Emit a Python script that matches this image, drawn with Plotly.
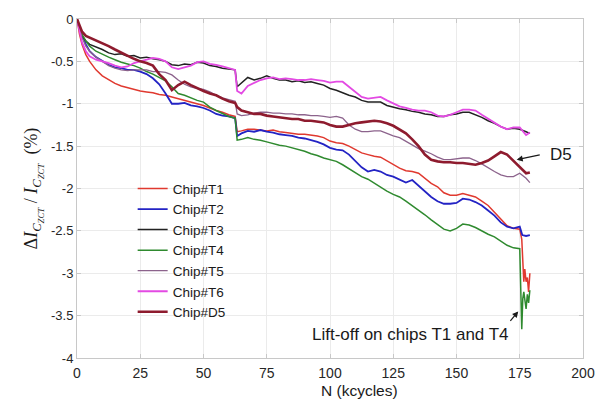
import plotly.graph_objects as go

# ---------------- data ----------------
X = [0, 1, 2, 3.5, 5, 7.5, 10, 12.5, 15, 17.5, 20, 22.5, 25, 27.5, 30, 32.5, 35, 37.5,
     40, 42.5, 45, 47.5, 50, 52.5, 55, 57.5, 60, 62.5, 63.3, 65, 67.5, 70, 72.5, 75,
     77.5, 80, 82.5, 85, 87.5, 90, 92.5, 95, 97.5, 100, 102.5, 105, 107.5, 110, 112.5,
     115, 117.5, 120, 122.5, 125, 127.5, 130, 132.5, 135, 137.5, 140, 142.5, 145, 147.5,
     150, 152.5, 155, 157.5, 160, 162.5, 165, 167.5, 170, 172.5, 175]

T1 = [0, -0.18, -0.3, -0.42, -0.5, -0.6, -0.67, -0.72, -0.76, -0.79, -0.81, -0.83, -0.85, -0.86,
      -0.87, -0.89, -0.9, -0.92, -0.94, -0.96, -0.98, -1.0, -1.02, -1.05, -1.08, -1.1, -1.13, -1.15,
      -1.33, -1.32, -1.3, -1.3, -1.31, -1.32, -1.31, -1.33, -1.34, -1.35, -1.36, -1.36, -1.37, -1.38,
      -1.4, -1.44, -1.46, -1.47, -1.5, -1.54, -1.58, -1.6, -1.62, -1.63, -1.67, -1.72, -1.76, -1.79,
      -1.8, -1.82, -1.88, -1.94, -1.98, -2.05, -2.08, -2.08, -2.06, -2.08, -2.1, -2.15, -2.2, -2.28,
      -2.36, -2.44, -2.47, -2.48]
T1_TAIL_X = [175.8, 176.2, 176.6, 177, 177.5, 178, 178.5, 179]
T1_TAIL_Y = [-2.6, -2.9, -3.1, -2.95, -3.1, -3.05, -3.22, -3.0]

T2 = [0, -0.1, -0.2, -0.3, -0.38, -0.45, -0.5, -0.54, -0.57, -0.58, -0.6, -0.6, -0.62, -0.65,
      -0.7, -0.77, -0.88, -1.0, -1.0, -0.99, -1.02, -1.03, -1.05, -1.08, -1.12, -1.14, -1.15, -1.17,
      -1.38, -1.35, -1.32, -1.33, -1.31, -1.33, -1.34, -1.36, -1.37, -1.38, -1.4, -1.41, -1.43, -1.45,
      -1.48, -1.52, -1.54, -1.55, -1.6, -1.68, -1.75, -1.8, -1.78, -1.8, -1.84, -1.86, -1.9, -1.93,
      -1.9, -1.97, -2.04, -2.1, -2.15, -2.18, -2.18, -2.17, -2.12, -2.13, -2.16, -2.2, -2.26, -2.32,
      -2.4, -2.45, -2.47, -2.45]
T2_TAIL_X = [176, 177.5, 179]
T2_TAIL_Y = [-2.55, -2.56, -2.55]

T3 = [0, -0.12, -0.2, -0.26, -0.3, -0.33, -0.36, -0.4, -0.42, -0.41, -0.44, -0.43, -0.46, -0.45,
      -0.47, -0.48, -0.5, -0.54, -0.55, -0.53, -0.54, -0.51, -0.52, -0.55, -0.56, -0.58, -0.59, -0.6,
      -0.8, -0.76, -0.69, -0.72, -0.7, -0.67, -0.7, -0.72, -0.72, -0.74, -0.73, -0.75, -0.74, -0.76,
      -0.78, -0.82, -0.84, -0.87, -0.9, -0.92, -0.96, -0.98, -0.98, -0.98, -1.02, -1.04, -1.06, -1.07,
      -1.09, -1.1, -1.12, -1.13, -1.15, -1.15, -1.13, -1.12, -1.1, -1.1, -1.13, -1.16, -1.2, -1.23,
      -1.27, -1.3, -1.29, -1.3]
T3_TAIL_X = [177.5, 179]
T3_TAIL_Y = [-1.33, -1.35]

T4 = [0, -0.1, -0.18, -0.26, -0.32, -0.38, -0.42, -0.45, -0.48, -0.51, -0.53, -0.55, -0.58, -0.62,
      -0.65, -0.69, -0.73, -0.8, -0.88, -0.9, -0.93, -0.96, -0.98, -1.04, -1.08, -1.12, -1.15, -1.17,
      -1.43, -1.42, -1.4, -1.42, -1.43, -1.45, -1.47, -1.49, -1.5, -1.52, -1.54, -1.56, -1.59, -1.61,
      -1.64, -1.66, -1.68, -1.72, -1.77, -1.82, -1.86, -1.89, -1.94, -1.98, -2.03, -2.07, -2.1, -2.15,
      -2.2, -2.25, -2.31, -2.37, -2.43, -2.48, -2.5, -2.47, -2.42, -2.43, -2.46, -2.5, -2.54, -2.57,
      -2.62, -2.67, -2.7, -2.71]
T4_TAIL_X = [175.8, 176.2, 176.6, 177, 177.5, 178, 178.5, 179]
T4_TAIL_Y = [-3.66, -3.3, -3.22, -3.3, -3.42, -3.25, -3.35, -3.2]

T5 = [0, -0.12, -0.22, -0.32, -0.38, -0.45, -0.5, -0.55, -0.58, -0.6, -0.61, -0.6, -0.6, -0.6,
      -0.62, -0.62, -0.63, -0.66, -0.72, -0.77, -0.8, -0.82, -0.83, -0.86, -0.9, -0.93, -0.95, -0.97,
      -1.12, -1.14, -1.13, -1.11, -1.1, -1.1, -1.11, -1.11, -1.12, -1.12, -1.13, -1.13, -1.14, -1.14,
      -1.15, -1.16, -1.15, -1.17, -1.25, -1.3, -1.33, -1.33, -1.32, -1.32, -1.35, -1.38, -1.4, -1.44,
      -1.49, -1.53, -1.56, -1.59, -1.63, -1.66, -1.66, -1.65, -1.64, -1.64, -1.67, -1.71, -1.76, -1.8,
      -1.84, -1.86, -1.86, -1.82]
T5_TAIL_X = [177.5, 179]
T5_TAIL_Y = [-1.88, -1.93]

T6 = [0, -0.15, -0.28, -0.38, -0.44, -0.48, -0.5, -0.52, -0.55, -0.57, -0.56, -0.52, -0.5, -0.48,
      -0.46, -0.47, -0.5, -0.57, -0.59, -0.57, -0.55, -0.51, -0.5, -0.53, -0.54, -0.56, -0.58, -0.6,
      -0.85, -0.88, -0.79, -0.75, -0.72, -0.7, -0.69, -0.71, -0.7, -0.71, -0.72, -0.72, -0.71, -0.72,
      -0.73, -0.75, -0.74, -0.74, -0.8, -0.86, -0.92, -0.94, -0.93, -0.92, -0.96, -1.0, -1.03, -1.05,
      -1.07, -1.08, -1.08, -1.1, -1.14, -1.15, -1.13, -1.1, -1.07, -1.07, -1.08, -1.13, -1.18, -1.22,
      -1.27, -1.3, -1.28, -1.28]
T6_TAIL_X = [177.5, 179]
T6_TAIL_Y = [-1.37, -1.34]

D5 = [0, -0.08, -0.15, -0.2, -0.22, -0.25, -0.28, -0.32, -0.36, -0.4, -0.43, -0.47, -0.5, -0.52,
      -0.55, -0.65, -0.72, -0.84, -0.78, -0.74, -0.78, -0.82, -0.85, -0.88, -0.9, -0.94, -0.97, -0.99,
      -1.04, -1.08, -1.1, -1.12, -1.12, -1.14, -1.15, -1.16, -1.17, -1.18, -1.18, -1.2, -1.2, -1.21,
      -1.22, -1.25, -1.27, -1.27, -1.25, -1.23, -1.22, -1.21, -1.2, -1.21, -1.23, -1.26, -1.3, -1.35,
      -1.42, -1.5, -1.6, -1.66, -1.68, -1.69, -1.69, -1.7, -1.7, -1.71, -1.72, -1.7, -1.67, -1.62,
      -1.57, -1.6, -1.67, -1.74]
D5_TAIL_X = [177.5, 179]
D5_TAIL_Y = [-1.82, -1.81]

NAMES = ["Chip#T1", "Chip#T2", "Chip#T3", "Chip#T4", "Chip#T5", "Chip#T6", "Chip#D5"]
COLORS = ["#e0392f", "#2323c4", "#222222", "#2f8a2f", "#8c638c", "#e34ae3", "#8e1b2e"]
WIDTHS = [1.5, 1.8, 1.5, 1.5, 1.3, 1.8, 2.6]

X_TICKS = [0, 25, 50, 75, 100, 125, 150, 175, 200]
Y_TICKS = [0, -0.5, -1, -1.5, -2, -2.5, -3, -3.5, -4]
Y_TICK_TEXT = ["0", "-0.5", "-1", "-1.5", "-2", "-2.5", "-3", "-3.5", "-4"]

# ---------------- figure ----------------
series = [
    (T1, T1_TAIL_X, T1_TAIL_Y),
    (T2, T2_TAIL_X, T2_TAIL_Y),
    (T3, T3_TAIL_X, T3_TAIL_Y),
    (T4, T4_TAIL_X, T4_TAIL_Y),
    (T5, T5_TAIL_X, T5_TAIL_Y),
    (T6, T6_TAIL_X, T6_TAIL_Y),
    (D5, D5_TAIL_X, D5_TAIL_Y),
]

fig = go.Figure()
for (ys, tx, ty), name, col, w in zip(series, NAMES, COLORS, WIDTHS):
    fig.add_trace(go.Scatter(
        x=X + tx, y=ys + ty, mode="lines", name=name,
        line=dict(color=col, width=w),
    ))

font_family = "Liberation Sans, Arial, sans-serif"

fig.update_layout(
    width=607, height=403,
    margin=dict(l=77, r=24, t=14, b=45),
    paper_bgcolor="white", plot_bgcolor="white",
    font=dict(family=font_family, size=13, color="#262626"),
    showlegend=True,
    legend=dict(
        x=0.11, y=0.545, xanchor="left", yanchor="top",
        bgcolor="rgba(0,0,0,0)", borderwidth=0,
        font=dict(size=13.5, color="#1a1a1a"),
        itemwidth=30, tracegroupgap=0,
    ),
    xaxis=dict(
        range=[0, 200], tickvals=X_TICKS,
        showgrid=True, gridcolor="#ebebeb", gridwidth=1,
        zeroline=False, showline=True, linecolor="#c8c8c8", linewidth=1,
        mirror="ticks", ticks="inside", ticklen=4, tickcolor="#c8c8c8",
        ticklabelstandoff=2,
        tickfont=dict(size=14, color="#262626"),
    ),
    yaxis=dict(
        range=[-4, 0], tickvals=Y_TICKS, ticktext=Y_TICK_TEXT,
        showgrid=True, gridcolor="#ebebeb", gridwidth=1,
        zeroline=False, showline=True, linecolor="#c8c8c8", linewidth=1,
        mirror="ticks", ticks="inside", ticklen=4, tickcolor="#c8c8c8",
        title=dict(
            text="Δ<i>I<sub>C<sub>ZCT</sub></sub></i> / <i>I<sub>C<sub>ZCT</sub></sub></i>  (%)",
            standoff=8,
            font=dict(family="Liberation Serif, Times New Roman, serif", size=18, color="#1a1a1a"),
        ),
        tickfont=dict(size=13, color="#262626"),
    ),
)

# x-axis title
fig.add_annotation(
    x=111.5, y=-0.128, xref="x", yref="paper", text="N (kcycles)", showarrow=False,
    xanchor="center", yanchor="bottom", font=dict(size=15.5, color="#1a1a1a"),
)

fig.add_annotation(
    x=173.8, y=-1.66, ax=183.5, ay=-1.6, xref="x", yref="y", axref="x", ayref="y",
    text="", showarrow=True, arrowhead=2, arrowsize=1, arrowwidth=1.2, arrowcolor="#1a1a1a",
)
fig.add_annotation(
    x=186.0, y=-1.6, xref="x", yref="y", text="D5", showarrow=False,
    xanchor="left", yanchor="middle", font=dict(size=17, color="#1a1a1a"),
)
fig.add_annotation(
    x=174.4, y=-3.45, ax=170.8, ay=-3.58, xref="x", yref="y", axref="x", ayref="y",
    text="", showarrow=True, arrowhead=2, arrowsize=1, arrowwidth=1.2, arrowcolor="#1a1a1a",
)
fig.add_annotation(
    x=171.4, y=-3.72, xref="x", yref="y", text="Lift-off on chips T1 and T4", showarrow=False,
    xanchor="right", yanchor="middle", font=dict(size=17, color="#1a1a1a"),
)

fig.write_html("out.html")
